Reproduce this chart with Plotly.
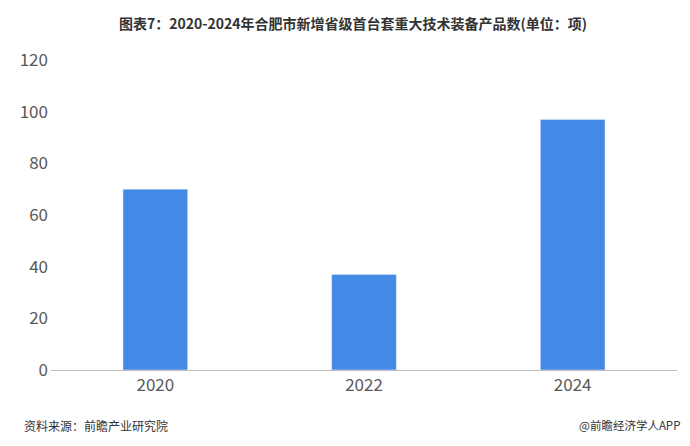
import plotly.graph_objects as go

years = ["2020", "2022", "2024"]
values = [70, 37, 97]
y_ticks = [0, 20, 40, 60, 80, 100, 120]

fig = go.Figure(go.Bar(x=years, y=values, marker_color="#4589E6", width=0.31))
fig.update_layout(
    width=690, height=446,
    margin=dict(l=33, r=21, t=52, b=84),
    plot_bgcolor="white", paper_bgcolor="white",
    showlegend=False,
    font=dict(family="Noto Sans CJK SC", color="#595959"),
    title=dict(text="<b>图表7：2020-2024年合肥市新增省级首台套重大技术装备产品数(单位：项)</b>",
               x=0.5, xanchor="center", y=0.975, yanchor="top",
               font=dict(size=14, color="#333333")),
)
fig.update_xaxes(showline=True, linecolor="#BFBFBF", linewidth=1, ticks="",
                 tickfont=dict(size=17, color="#595959"))
fig.update_yaxes(range=[0, 120], tickvals=y_ticks, showgrid=False, zeroline=False,
                 tickfont=dict(size=17, color="#595959"), ticklabelstandoff=2)
fig.add_annotation(text="资料来源：前瞻产业研究院", xref="paper", yref="paper",
                   x=-0.047, y=-0.145, xanchor="left", yanchor="top", showarrow=False,
                   font=dict(size=12, color="#333333"))
fig.add_annotation(text="@前瞻经济学人APP", xref="paper", yref="paper",
                   x=(674 - 33) / 636, y=-0.145, xanchor="right", yanchor="top", showarrow=False,
                   font=dict(size=11.5, color="#333333"))
fig.write_html("out.html")
